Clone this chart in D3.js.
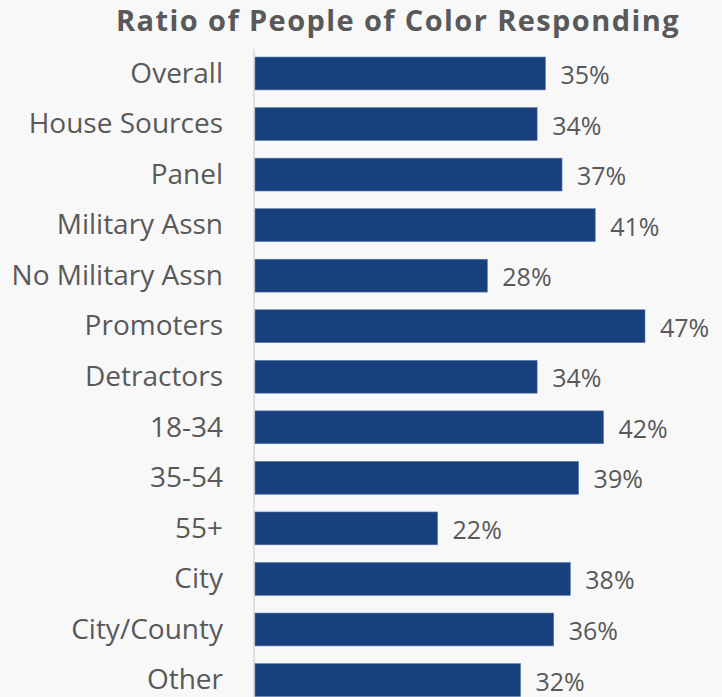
<!DOCTYPE html>
<html>
<head>
<meta charset="utf-8">
<script src="https://cdn.jsdelivr.net/npm/d3@7"></script>
<style>
  body { margin: 0; background: #f8f8f8; }
  text { font-family: "Open Sans", sans-serif; }
</style>
</head>
<body>
<div id="chart"></div>
<script>
// data
const categories = ["Overall", "House Sources", "Panel", "Military Assn", "No Military Assn",
  "Promoters", "Detractors", "18-34", "35-54", "55+", "City", "City/County", "Other"];
const values = [35, 34, 37, 41, 28, 47, 34, 42, 39, 22, 38, 36, 32];
const title = "Ratio of People of Color Responding";

const width = 722, height = 697;

const svg = d3.select("#chart")
  .append("svg")
  .attr("width", width)
  .attr("height", height);

svg.append("rect")
  .attr("width", width)
  .attr("height", height)
  .attr("fill", "#f8f8f8");

const data = categories.map((c, i) => ({ cat: c, val: values[i] }));

// scales
const x = d3.scaleLinear().domain([0, 47]).range([255, 645]);
const y = d3.scaleBand()
  .domain(categories)
  .range([48.2, 705.3])
  .paddingInner(0.35)
  .paddingOuter(0.175);

// axis line
svg.append("line")
  .attr("x1", 254).attr("x2", 254)
  .attr("y1", 49).attr("y2", height)
  .attr("stroke", "#d9d9d9")
  .attr("stroke-width", 1.5);

// bars
svg.selectAll("rect.bar")
  .data(data)
  .join("rect")
  .attr("class", "bar")
  .attr("x", x(0))
  .attr("y", d => y(d.cat))
  .attr("width", d => x(d.val) - x(0))
  .attr("height", y.bandwidth())
  .attr("fill", "#17407c")
  .attr("stroke", "#5a7bb0")
  .attr("stroke-width", 0.6);

// category labels
svg.selectAll("text.cat")
  .data(data)
  .join("text")
  .attr("class", "cat")
  .attr("x", 223)
  .attr("y", d => y(d.cat) + y.bandwidth() / 2)
  .attr("dy", "0.33em")
  .attr("text-anchor", "end")
  .attr("font-size", "28px")
  .attr("fill", "#595959")
  .text(d => d.cat);

// value labels
svg.selectAll("text.val")
  .data(data)
  .join("text")
  .attr("class", "val")
  .attr("x", d => x(d.val) + 15)
  .attr("y", d => y(d.cat) + y.bandwidth() / 2)
  .attr("dy", "0.42em")
  .attr("font-size", "25px")
  .attr("fill", "#595959")
  .text(d => d.val + "%");

// title
svg.append("text")
  .attr("x", 398)
  .attr("y", 31)
  .attr("text-anchor", "middle")
  .attr("font-size", "29px")
  .attr("font-weight", "bold")
  .attr("letter-spacing", "1.4px")
  .attr("fill", "#595959")
  .text(title);
</script>
</body>
</html>
